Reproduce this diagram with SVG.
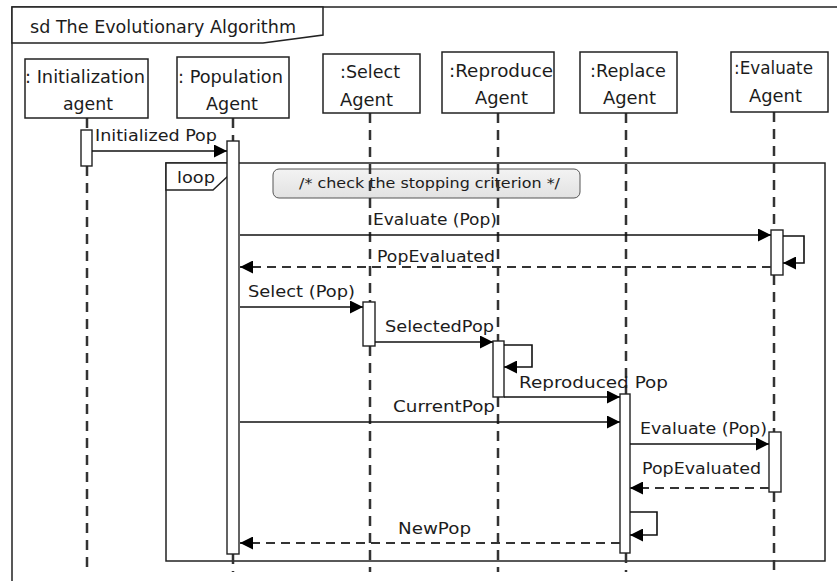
<svg xmlns="http://www.w3.org/2000/svg" width="837" height="581" viewBox="0 0 837 581">
  <defs>
    <style>
      .frame { fill: none; stroke: #222; stroke-width: 1.5; }
      .head { fill: #fff; stroke: #222; stroke-width: 1.5; }
      .box { fill: #fff; stroke: #222; stroke-width: 1.5; }
      .act { fill: #fff; stroke: #222; stroke-width: 1.4; }
      .life { fill: none; stroke: #333; stroke-width: 2.5; stroke-dasharray: 10 7; }
      .msg { fill: none; stroke: #111; stroke-width: 1.6; marker-end: url(#arrow); }
      .ret { fill: none; stroke: #333; stroke-width: 2; stroke-dasharray: 9 6; marker-end: url(#arrow); }
      text { font-family: "DejaVu Sans", "Liberation Sans", sans-serif; fill: #1c1c1c; }
      .lbl { font-size: 17px; }
      .m { font-size: 15.5px; }
      .note-t { font-size: 14px; }
    </style>
    <marker id="arrow" markerUnits="userSpaceOnUse" markerWidth="14" markerHeight="13" refX="13" refY="6.5" orient="auto">
      <path d="M0,0 L13,6.5 L0,13 Z" fill="#000"/>
    </marker>
    <linearGradient id="noteFill" x1="0" y1="0" x2="0" y2="1">
      <stop offset="0" stop-color="#f3f3f3"/>
      <stop offset="1" stop-color="#e2e2e2"/>
    </linearGradient>
  </defs>

  <!-- outer sequence diagram frame -->
  <g id="frame">
    <path class="frame" d="M12,581 V7 H837"/>
    <path class="head" d="M12,7 H323 V35 L263,43 H12 Z"/>
    <text x="30" y="33" style="font-size:17px" textLength="266" lengthAdjust="spacingAndGlyphs">sd The Evolutionary Algorithm</text>
  </g>

  <!-- loop combined fragment -->
  <g id="loop">
    <rect class="frame" x="166" y="163" width="659" height="398"/>
    <path class="head" d="M166,163 H228 V176 L213,190 H166 Z"/>
    <text x="177" y="183" class="m" textLength="38" lengthAdjust="spacingAndGlyphs">loop</text>
  </g>

  <!-- guard note -->
  <g id="guard">
    <rect x="273" y="169" width="307" height="29" rx="6" fill="url(#noteFill)" stroke="#555" stroke-width="1"/>
    <text x="299" y="188" class="note-t" textLength="261" lengthAdjust="spacingAndGlyphs">/* check the stopping criterion */</text>
  </g>

  <!-- lifelines -->
  <g id="lifelines">
    <path class="life" d="M87,118 V130 M87,166 V572"/>
    <path class="life" d="M233,118 V141 M233,554 V572"/>
    <path class="life" d="M370,113 V302 M370,346 V572"/>
    <path class="life" d="M498,113 V341 M498,397 V572"/>
    <path class="life" d="M626,113 V394 M626,553 V572"/>
    <path class="life" d="M774,112 V230 M774,275 V432 M774,492 V572"/>
  </g>

  <!-- participants -->
  <g id="init-agent">
    <rect class="box" x="25" y="59" width="123" height="59"/>
    <text x="25" y="83" class="lbl" textLength="120" lengthAdjust="spacingAndGlyphs">: Initialization</text>
    <text x="63" y="110" class="lbl" textLength="50" lengthAdjust="spacingAndGlyphs">agent</text>
    <rect class="act" x="81" y="130" width="11" height="36"/>
  </g>
  <g id="population-agent">
    <rect class="box" x="177" y="57" width="112" height="61"/>
    <text x="178" y="83" class="lbl" textLength="105" lengthAdjust="spacingAndGlyphs">: Population</text>
    <text x="206" y="110" class="lbl" textLength="52" lengthAdjust="spacingAndGlyphs">Agent</text>
    <rect class="act" x="227" y="141" width="12" height="413"/>
  </g>
  <g id="select-agent">
    <rect class="box" x="323" y="54" width="97" height="59"/>
    <text x="340" y="78" class="lbl" textLength="60" lengthAdjust="spacingAndGlyphs">:Select</text>
    <text x="340" y="106" class="lbl" textLength="53" lengthAdjust="spacingAndGlyphs">Agent</text>
    <rect class="act" x="363" y="302" width="12" height="44"/>
  </g>
  <g id="reproduce-agent">
    <rect class="box" x="442" y="52" width="112" height="61"/>
    <text x="449" y="77" class="lbl" textLength="104" lengthAdjust="spacingAndGlyphs">:Reproduce</text>
    <text x="475" y="104" class="lbl" textLength="53" lengthAdjust="spacingAndGlyphs">Agent</text>
    <rect class="act" x="493" y="341" width="11" height="56"/>
  </g>
  <g id="replace-agent">
    <rect class="box" x="580" y="52" width="97" height="61"/>
    <text x="590" y="77" class="lbl" textLength="76" lengthAdjust="spacingAndGlyphs">:Replace</text>
    <text x="603" y="104" class="lbl" textLength="53" lengthAdjust="spacingAndGlyphs">Agent</text>
    <rect class="act" x="620" y="394" width="10" height="159"/>
  </g>
  <g id="evaluate-agent">
    <rect class="box" x="731" y="52" width="97" height="60"/>
    <text x="734" y="74" class="lbl" textLength="79" lengthAdjust="spacingAndGlyphs">:Evaluate</text>
    <text x="749" y="102" class="lbl" textLength="53" lengthAdjust="spacingAndGlyphs">Agent</text>
    <rect class="act" x="771" y="230" width="12" height="45"/>
    <rect class="act" x="769" y="432" width="12" height="60"/>
  </g>

  <!-- messages -->
  <g id="messages">
    <path class="msg" d="M92,151 H227"/>
    <path class="msg" d="M240,235 H771"/>
    <path class="msg" d="M783,236 H804 V263 H783"/>
    <path class="ret" d="M771,267 H240"/>
    <path class="msg" d="M240,307 H363"/>
    <path class="msg" d="M375,342 H493"/>
    <path class="msg" d="M504,345 H532 V367 H504"/>
    <path class="msg" d="M504,397 H620"/>
    <path class="msg" d="M240,422 H620"/>
    <path class="msg" d="M630,444 H769"/>
    <path class="ret" d="M769,488 H630"/>
    <path class="msg" d="M630,512 H657 V535 H630"/>
    <path class="ret" d="M620,543 H240"/>
  </g>

  <!-- message labels -->
  <g id="message-labels">
    <text x="95" y="141" class="m" textLength="122" lengthAdjust="spacingAndGlyphs">Initialized Pop</text>
    <text x="373" y="225" class="m" textLength="124" lengthAdjust="spacingAndGlyphs">Evaluate (Pop)</text>
    <text x="377" y="262" class="m" textLength="118" lengthAdjust="spacingAndGlyphs">PopEvaluated</text>
    <text x="248" y="297" class="m" textLength="107" lengthAdjust="spacingAndGlyphs">Select (Pop)</text>
    <text x="385" y="332" class="m" textLength="109" lengthAdjust="spacingAndGlyphs">SelectedPop</text>
    <text x="519" y="388" class="m" textLength="149" lengthAdjust="spacingAndGlyphs">Reproduced Pop</text>
    <text x="393" y="412" class="m" textLength="102" lengthAdjust="spacingAndGlyphs">CurrentPop</text>
    <text x="640" y="434" class="m" textLength="127" lengthAdjust="spacingAndGlyphs">Evaluate (Pop)</text>
    <text x="642" y="474" class="m" textLength="119" lengthAdjust="spacingAndGlyphs">PopEvaluated</text>
    <text x="398" y="534" class="m" textLength="73" lengthAdjust="spacingAndGlyphs">NewPop</text>
  </g>
</svg>
